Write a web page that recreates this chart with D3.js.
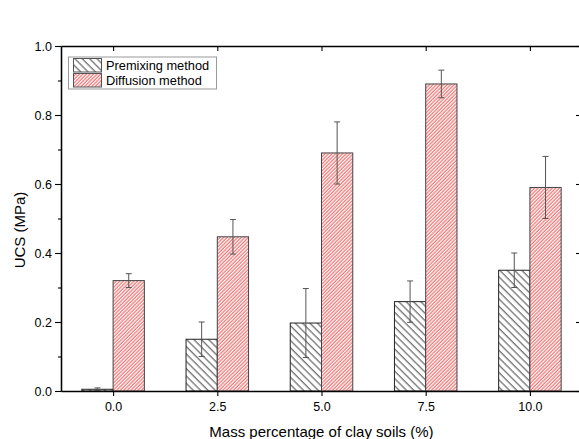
<!DOCTYPE html>
<html>
<head>
<meta charset="utf-8">
<script src="https://cdn.jsdelivr.net/npm/d3@7"></script>
<style>
  body { margin: 0; background: #fff; }
  svg text { font-family: Arial, "Liberation Sans", sans-serif; }
</style>
</head>
<body>
<svg id="chart" width="579" height="439"></svg>
<script>
 (function () {
  // values
  var categories = [0, 2.5, 5, 7.5, 10];
  var premixing = [0.005, 0.150, 0.197, 0.259, 0.350];
  var premixingErr = [0.004, 0.050, 0.100, 0.060, 0.050];
  var diffusion = [0.320, 0.447, 0.690, 0.890, 0.590];
  var diffusionErr = [0.020, 0.050, 0.090, 0.040, 0.090];
  var seriesNames = ["Premixing method", "Diffusion method"];
  var xTicks = [0, 2.5, 5, 7.5, 10];
  var yTicks = [0, 0.2, 0.4, 0.6, 0.8, 1.0];
  var yMinor = [0.1, 0.3, 0.5, 0.7, 0.9];

  var svg = d3.select("svg#chart"),
      left = 61, right = 582, top = 46, bottom = 391,
      barW = 0.75;

  var x = d3.scaleLinear().domain([-1.25, 11.25]).range([left, right]);
  var y = d3.scaleLinear().domain([0, 1]).range([bottom, top]);

  var defs = svg.append("defs");
  var p1 = defs.append("pattern").attr("id", "hatchPremix")
      .attr("patternUnits", "userSpaceOnUse")
      .attr("width", 5.2).attr("height", 5.2)
      .attr("patternTransform", "rotate(-45)");
  p1.append("rect").attr("width", 5.2).attr("height", 5.2).attr("fill", "#fff");
  p1.append("line").attr("x1", 1).attr("x2", 1).attr("y1", 0).attr("y2", 5.2)
      .attr("stroke", "#333").attr("stroke-width", 0.9);
  var p2 = defs.append("pattern").attr("id", "hatchDiff")
      .attr("patternUnits", "userSpaceOnUse")
      .attr("width", 2.5).attr("height", 2.5)
      .attr("patternTransform", "rotate(45)");
  p2.append("rect").attr("width", 2.5).attr("height", 2.5).attr("fill", "#fff");
  p2.append("line").attr("x1", 1).attr("x2", 1).attr("y1", 0).attr("y2", 2.5)
      .attr("stroke", "#f07070").attr("stroke-width", 1.2);

  var series = [
    {name: seriesNames[0], vals: premixing, errs: premixingErr, off: -barW,
     fill: "url(#hatchPremix)", stroke: "#222"},
    {name: seriesNames[1], vals: diffusion, errs: diffusionErr, off: 0,
     fill: "url(#hatchDiff)", stroke: "#444"}
  ];

  var gbars = svg.append("g");
  series.forEach(function (s) {
    categories.forEach(function (c, i) {
      gbars.append("rect")
          .attr("x", x(c + s.off)).attr("y", y(s.vals[i]))
          .attr("width", x(c + s.off + barW) - x(c + s.off))
          .attr("height", y(0) - y(s.vals[i]))
          .attr("fill", s.fill).attr("stroke", s.stroke).attr("stroke-width", 1);
    });
  });

  // error bars
  var gerr = svg.append("g").attr("stroke", "#555").attr("stroke-width", 1);
  series.forEach(function (s) {
    categories.forEach(function (c, i) {
      var cx = x(c + s.off + barW / 2),
          y1 = y(s.vals[i] + s.errs[i]), y2 = y(s.vals[i] - s.errs[i]);
      gerr.append("line").attr("x1", cx).attr("x2", cx).attr("y1", y1).attr("y2", y2);
      gerr.append("line").attr("x1", cx - 3).attr("x2", cx + 3).attr("y1", y1).attr("y2", y1);
      gerr.append("line").attr("x1", cx - 3).attr("x2", cx + 3).attr("y1", y2).attr("y2", y2);
    });
  });

  var fmt = d3.format(".1f");
  function styleAxis(g) {
    g.selectAll(".domain").attr("stroke", "#000").attr("stroke-width", 1.3);
    g.selectAll(".tick line").attr("stroke", "#000").attr("stroke-width", 1.1);
    g.selectAll("text").style("font-size", "12.5px").attr("fill", "#000")
        .style("font-family", "Arial, 'Liberation Sans', sans-serif");
  }

  // left
  svg.append("g").attr("transform", "translate(" + left + ",0)")
     .call(d3.axisLeft(y).tickValues(yTicks).tickFormat(fmt).tickSize(6).tickSizeOuter(0).tickPadding(3))
     .call(styleAxis);
  svg.append("g").attr("transform", "translate(" + left + ",0)")
     .call(d3.axisLeft(y).tickValues(yMinor).tickFormat("").tickSize(3).tickSizeOuter(0))
     .call(styleAxis);
  // right
  svg.append("g").attr("transform", "translate(" + right + ",0)")
     .call(d3.axisRight(y).tickValues(yTicks).tickFormat("").tickSize(-6).tickSizeOuter(0))
     .call(styleAxis);
  svg.append("g").attr("transform", "translate(" + right + ",0)")
     .call(d3.axisRight(y).tickValues(yMinor).tickFormat("").tickSize(-3).tickSizeOuter(0))
     .call(styleAxis);
  // bottom
  svg.append("g").attr("transform", "translate(0," + bottom + ")")
     .call(d3.axisBottom(x).tickValues(xTicks).tickFormat(fmt).tickSize(5).tickSizeOuter(0).tickPadding(6))
     .call(styleAxis);
  // top
  svg.append("g").attr("transform", "translate(0," + top + ")")
     .call(d3.axisTop(x).tickValues(xTicks).tickFormat("").tickSize(-5).tickSizeOuter(0))
     .call(styleAxis);

  // axis titles
  svg.append("text").attr("x", (left + right) / 2).attr("y", 436.5)
     .attr("text-anchor", "middle").style("font-size", "15px")
     .text("Mass percentage of clay soils (%)");
  svg.append("text").attr("transform", "translate(25,230) rotate(-90)")
     .attr("text-anchor", "middle").style("font-size", "15px")
     .text("UCS (MPa)");

  // legend
  var gleg = svg.append("g");
  gleg.append("rect").attr("x", 68.5).attr("y", 57).attr("width", 148).attr("height", 32)
      .attr("fill", "#fff").attr("stroke", "#999").attr("stroke-width", 1);
  series.forEach(function (s, i) {
    var yy = 58.5 + i * 15;
    gleg.append("rect").attr("x", 73.5).attr("y", yy).attr("width", 28).attr("height", 13.5)
        .attr("fill", s.fill).attr("stroke", "#555").attr("stroke-width", 1);
    gleg.append("text").attr("x", 106).attr("y", yy + 11.5)
        .style("font-size", "12.8px").text(s.name);
  });
 })();
</script>
</body>
</html>
